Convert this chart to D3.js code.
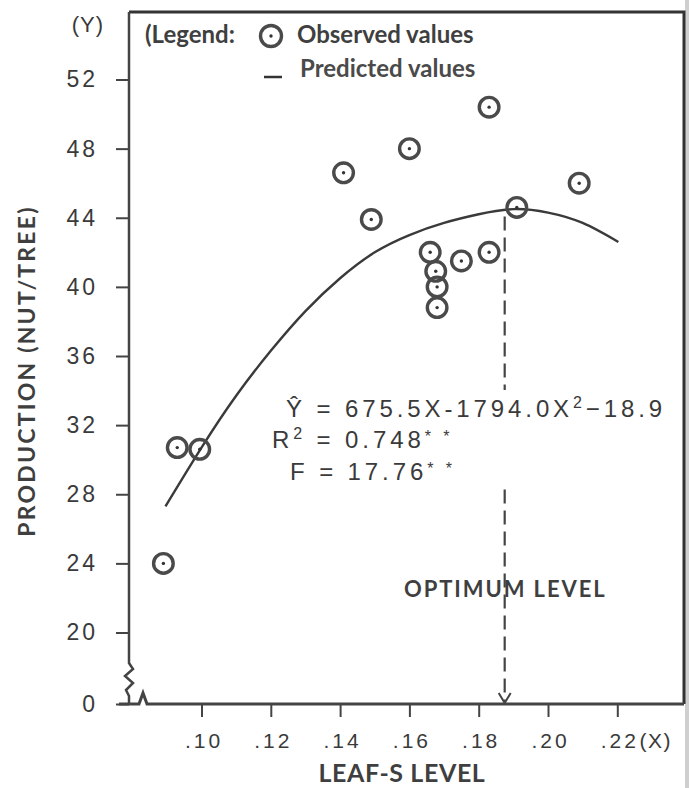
<!DOCTYPE html>
<html><head><meta charset="utf-8">
<script src="https://cdn.jsdelivr.net/npm/d3@7"></script>
<style>
body{margin:0;background:#fff;}
svg{display:block;}
.num{font-family:"Liberation Sans",Arial,sans-serif;fill:#3a3a3a;}
.lbl{font-family:Lato,"Open Sans",sans-serif;font-weight:700;fill:#3f3f3f;}
.axis text{font-family:"Liberation Sans",Arial,sans-serif;fill:#3a3a3a;}
.axis line{stroke:#444;stroke-width:2;}
</style></head><body>
<div id="chart"></div>
<script>
// Werte
const obsX = [0.089, 0.093, 0.0995, 0.141, 0.149, 0.160, 0.166, 0.1676, 0.168, 0.168, 0.175, 0.183, 0.183, 0.191, 0.209];
const obsY = [24.0, 30.7, 30.6, 46.6, 43.9, 48.0, 42.0, 40.9, 40.0, 38.8, 41.5, 42.0, 50.4, 44.6, 46.0];
// vorhergesagte Kurve
const predX = [0.0896, 0.10, 0.11, 0.12, 0.13, 0.14, 0.15, 0.16, 0.17, 0.18, 0.19, 0.20, 0.21, 0.2203];
const predY = [27.3, 30.7, 33.7, 36.3, 38.6, 40.5, 42.0, 43.0, 43.7, 44.2, 44.5, 44.3, 43.7, 42.6];
const optX = 0.1875, optTop = 44.3;
const xTicks = [0.10, 0.12, 0.14, 0.16, 0.18, 0.20, 0.22];
const yTicks = [0, 20, 24, 28, 32, 36, 40, 44, 48, 52];

const W = 689, H = 788, box = {l:129, r:684, t:12, b:704};
const x = d3.scaleLinear().domain([0.10, 0.22]).range([201.5, 617.3]);
// Achsenbruch zwischen 0 und 20
const y = d3.scaleLinear().domain([0, 20, 52]).range([box.b, 632.5, 79.5]);

const svg = d3.select("#chart").append("svg").attr("width", W).attr("height", H);
const ink = "#444";

// Scan-Schatten am rechten Rand
svg.append("rect").attr("x", 685).attr("y", 0).attr("width", 4).attr("height", H).attr("fill", "#cfcfcf");

// Rahmen oben/rechts
svg.append("path").attr("d", `M${box.l},${box.t}H${box.r}V${box.b}`)
  .attr("fill", "none").attr("stroke", "#333").attr("stroke-width", 3);

// Achsen mit Bruchzeichen
svg.append("path")
  .attr("d", `M${box.l},${box.t}V663L133,669L125,676L133,683L126,690L${box.l},696V${box.b}`)
  .attr("fill", "none").attr("stroke", ink).attr("stroke-width", 2.5);
svg.append("path")
  .attr("d", `M119,${box.b}H139L143,693L147,${box.b}H${box.r}`)
  .attr("fill", "none").attr("stroke", ink).attr("stroke-width", 3);

const gx = svg.append("g").attr("class", "axis").attr("transform", `translate(0,${box.b})`)
  .call(d3.axisBottom(x).tickValues(xTicks).tickSize(13).tickPadding(16)
    .tickFormat(d => d3.format(".2f")(d).replace(/^0/, "")));
gx.select(".domain").remove();
gx.selectAll("text").attr("font-size", 21).attr("letter-spacing", 3).attr("dx", 2);
// "(X)" direkt hinter ".22"
const t22 = gx.selectAll(".tick").filter(d => d === 0.22).select("text").node().getBBox();
svg.append("text").attr("class", "num").attr("x", x(0.22) + t22.x + t22.width + 1).attr("y", 748)
  .attr("font-size", 21).attr("letter-spacing", 1.5).text("(X)");

const gy = svg.append("g").attr("class", "axis").attr("transform", `translate(${box.l},0)`)
  .call(d3.axisLeft(y).tickValues(yTicks).tickSize(13).tickPadding(18));
gy.select(".domain").remove();
gy.selectAll("text").attr("font-size", 23).attr("letter-spacing", 3);
svg.append("text").attr("class", "num").attr("x", 104).attr("y", 32)
  .attr("text-anchor", "end").attr("font-size", 22).attr("letter-spacing", 1).text("(Y)");

// Optimum: gestrichelte Linie mit Pfeil
const ox = x(optX);
svg.append("line").attr("x1", ox).attr("x2", ox).attr("y1", y(optTop) + 4).attr("y2", y(0) - 2)
  .attr("stroke", ink).attr("stroke-width", 2.2).attr("stroke-dasharray", "14,7");
svg.append("path").attr("d", `M${ox-6},${y(0)-11}L${ox},${y(0)-1}L${ox+6},${y(0)-11}`)
  .attr("fill", "none").attr("stroke", ink).attr("stroke-width", 2);

// vorhergesagte Werte
const line = d3.line().x(d => x(d[0])).y(d => y(d[1])).curve(d3.curveNatural);
svg.append("path").datum(predX.map((v, i) => [v, predY[i]])).attr("d", line)
  .attr("fill", "none").attr("stroke", "#3a3a3a").attr("stroke-width", 2.4);

// beobachtete Werte
function marker(g, r){
  g.append("circle").attr("r", r).attr("fill", "none")
    .attr("stroke", "#4a4a4a").attr("stroke-width", 3.4);
  g.append("circle").attr("r", 1.7).attr("fill", "#333");
}
svg.append("g").selectAll("g").data(obsX.map((v, i) => [v, obsY[i]])).join("g")
  .attr("transform", d => `translate(${x(d[0])},${y(d[1])})`).each(function(){ marker(d3.select(this), 9.8); });

// Gleichung (verdeckt die Strichlinie)
const eq = svg.append("g").attr("class", "num").attr("font-size", 24).attr("letter-spacing", 3.9);
const bg = eq.append("rect").attr("fill", "#fff");
const l1 = eq.append("text").attr("x", 286).attr("y", 417);
l1.append("tspan").text("Ŷ = 675.5X-1794.0X");
l1.append("tspan").attr("font-size", 16).attr("dy", -9).text("2");
l1.append("tspan").attr("dy", 9).text("\u221218.9");
const l2 = eq.append("text").attr("x", 272).attr("y", 448);
l2.append("tspan").text("R");
l2.append("tspan").attr("font-size", 16).attr("dy", -9).text("2");
l2.append("tspan").attr("dy", 9).text(" = 0.748");
l2.append("tspan").attr("font-size", 16).attr("dy", -6).text("* *");
const l3 = eq.append("text").attr("x", 290).attr("y", 480);
l3.append("tspan").text("F = 17.76");
l3.append("tspan").attr("font-size", 16).attr("dy", -6).text("* *");
const bb = eq.node().getBBox();
bg.attr("x", bb.x).attr("y", bb.y - 4).attr("width", bb.width).attr("height", bb.height + 2);

// Beschriftungen
svg.append("text").attr("class", "lbl").attr("x", 404).attr("y", 597).attr("font-size", 22)
  .attr("letter-spacing", 1.9).attr("fill", "#555").text("OPTIMUM LEVEL");
svg.append("text").attr("class", "lbl").attr("x", 402).attr("y", 782).attr("font-size", 25)
  .attr("text-anchor", "middle").attr("letter-spacing", 0.6).text("LEAF-S LEVEL");
svg.append("text").attr("class", "lbl").attr("transform", "translate(35,371) rotate(-90)")
  .attr("font-size", 23).attr("text-anchor", "middle").attr("letter-spacing", 2.2)
  .text("PRODUCTION  (NUT/TREE)");

// Legende
const lg = svg.append("g").attr("class", "lbl").attr("font-size", 24).attr("fill", "#333");
lg.append("text").attr("x", 145).attr("y", 43).text("(Legend:");
marker(lg.append("g").attr("transform", "translate(271,36)"), 10.5);
lg.append("text").attr("x", 297).attr("y", 43).text("Observed values");
lg.append("line").attr("x1", 264).attr("x2", 282).attr("y1", 77).attr("y2", 77)
  .attr("stroke", "#333").attr("stroke-width", 2.5);
lg.append("text").attr("x", 300).attr("y", 77).attr("fill", "#4a4a4a").text("Predicted values");
</script>
</body></html>
